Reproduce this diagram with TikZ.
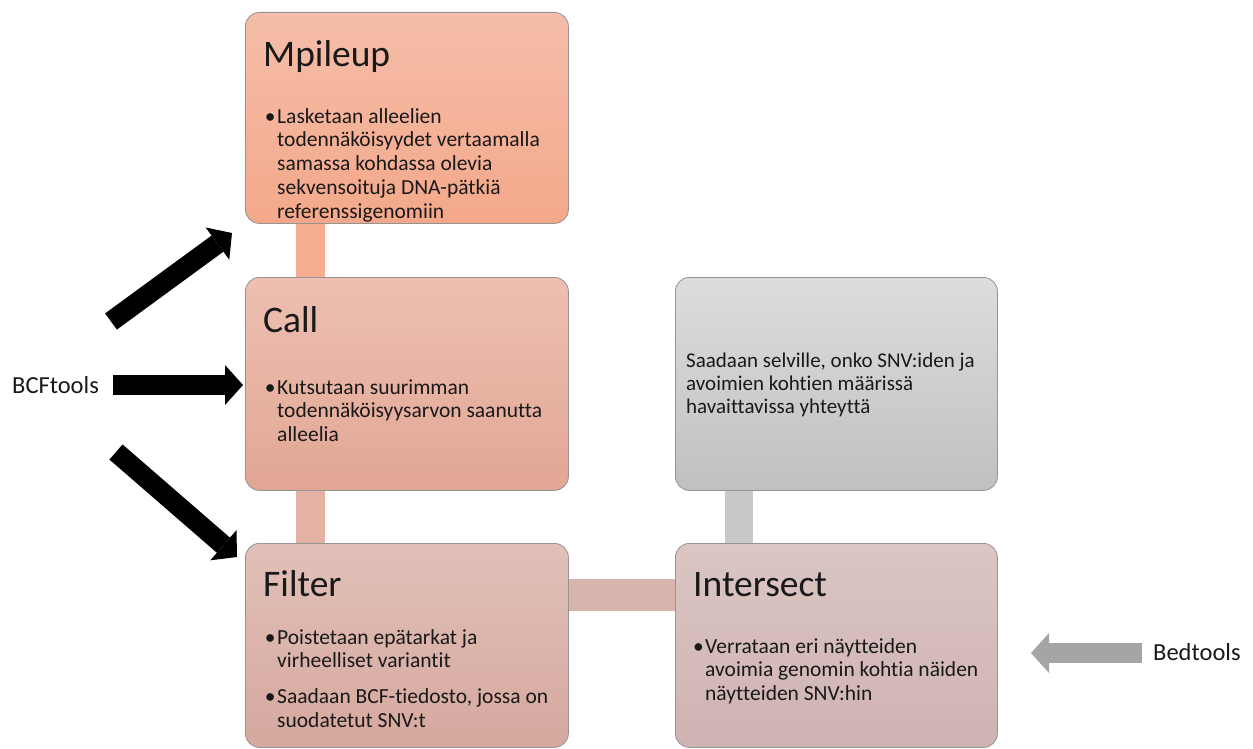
\documentclass[tikz,border=0pt]{standalone}
\usepackage{fontspec}
\setmainfont{Carlito}[Ligatures=NoCommon]
\usetikzlibrary{arrows.meta}
\definecolor{mpT}{RGB}{245,190,170}
\definecolor{mpB}{RGB}{244,168,138}
\definecolor{caT}{RGB}{237,192,178}
\definecolor{caB}{RGB}{226,166,148}
\definecolor{fiT}{RGB}{225,192,184}
\definecolor{fiB}{RGB}{214,168,158}
\definecolor{inT}{RGB}{219,198,196}
\definecolor{inB}{RGB}{207,178,178}
\definecolor{grT}{RGB}{221,221,221}
\definecolor{grB}{RGB}{192,192,192}
\definecolor{barA}{RGB}{245,172,145}
\definecolor{barB}{RGB}{228,178,165}
\definecolor{barC}{RGB}{217,180,174}
\definecolor{barD}{RGB}{200,200,200}
\definecolor{bedgray}{RGB}{165,165,165}
\definecolor{txt}{RGB}{25,25,25}
\begin{document}
\begin{tikzpicture}[x=1pt,y=-1pt,
  box/.style={draw=black!42, line width=0.8pt, rounded corners=14pt, inner sep=0pt,
    anchor=north west, minimum width=323pt, minimum height=211pt},
  title/.style={anchor=base west, inner sep=0pt, text=txt, font=\fontsize{37.5}{40}\selectfont},
  body/.style={anchor=north west, inner sep=0pt, align=left, text=txt, font=\fontsize{21.5}{23.8}\selectfont},
  bar/.style={line width=#1},
  blk/.style={line width=20pt, draw=black, -{Triangle[length=18pt,width=40pt,line width=0pt]}},
  tool/.style={inner sep=0pt, text=txt, font=\fontsize{24.5}{28}\selectfont}
]
\useasboundingbox (0,0) rectangle (1253,749);
% boxes
\node[box, top color=mpT, bottom color=mpB] (mp) at (245,12) {};
\node[box, top color=caT, bottom color=caB, minimum height=213pt] (ca) at (245,277) {};
\node[box, top color=fiT, bottom color=fiB, minimum height=204pt] (fi) at (245,543) {};
\node[box, top color=grT, bottom color=grB, minimum width=322pt, minimum height=213pt] (gr) at (675,277) {};
\node[box, top color=inT, bottom color=inB, minimum width=322pt, minimum height=204pt] (in) at (675,543) {};
% connector bars
\draw[bar=29pt, draw=barA] ([xshift=65.5pt]mp.south west) -- ([xshift=65.5pt]ca.north west);
\draw[bar=29pt, draw=barB] ([xshift=65.5pt]ca.south west) -- ([xshift=65.5pt]fi.north west);
\draw[bar=32pt, draw=barC] ([yshift=-51.5pt]fi.north east) -- ([yshift=-51.5pt]in.north west);
\draw[bar=28pt, draw=barD] ([xshift=64pt]gr.south west) -- ([xshift=64pt]in.north west);
% titles
\node[title] (mpt) at (263,67) {Mpileup};
\node[title] (cat) at (263,332) {Call};
\node[title] (fit) at (263,596) {Filter};
\node[title] (int) at (693,596) {Intersect};
% bodies
\node[body] (mpb) at (277,106.3) {\strut\llap{•\hspace{1.5pt}}Lasketaan alleelien\\todennäköisyydet vertaamalla\\samassa kohdassa olevia\\sekvensoituja DNA-pätkiä\\referenssigenomiin};
\node[body] (cab) at (277,377.3) {\strut\llap{•\hspace{1.5pt}}Kutsutaan suurimman\\todennäköisyysarvon saanutta\\alleelia};
\node[body] (fib) at (277,627.3) {\strut\llap{•\hspace{1.5pt}}Poistetaan epätarkat ja\\virheelliset variantit\\[12pt]\llap{•\hspace{1.5pt}}Saadaan BCF-tiedosto, jossa on\\suodatetut SNV:t};
\node[body] (inb) at (705,636.3) {\strut\llap{•\hspace{1.5pt}}Verrataan eri näytteiden\\avoimia genomin kohtia näiden\\näytteiden SNV:hin};
\node[body, font=\fontsize{21}{23.2}\selectfont] (grb) at (686,350.8) {\strut Saadaan selville, onko SNV:iden ja\\avoimien kohtien määrissä\\havaittavissa yhteyttä};
% tools
\node[tool, anchor=base west] (bcf) at (12,393) {BCFtools};
\node[tool, anchor=base west] (bed) at (1153,660) {Bedtools};
% arrows
\coordinate (a1s) at (111,321.5);
\coordinate (a1e) at (232,233);
\coordinate (a2s) at (113,385);
\coordinate (a2e) at (243,385);
\coordinate (a3s) at (116,452);
\coordinate (a3e) at (237,557);
\coordinate (a4s) at (1142,653);
\coordinate (a4e) at (1031,653);
\draw[blk] (a1s) -- (a1e);
\draw[blk] (a2s) -- (a2e);
\draw[blk] (a3s) -- (a3e);
\draw[blk, draw=bedgray, fill=bedgray] (a4s) -- (a4e);
\end{tikzpicture}
\end{document}
